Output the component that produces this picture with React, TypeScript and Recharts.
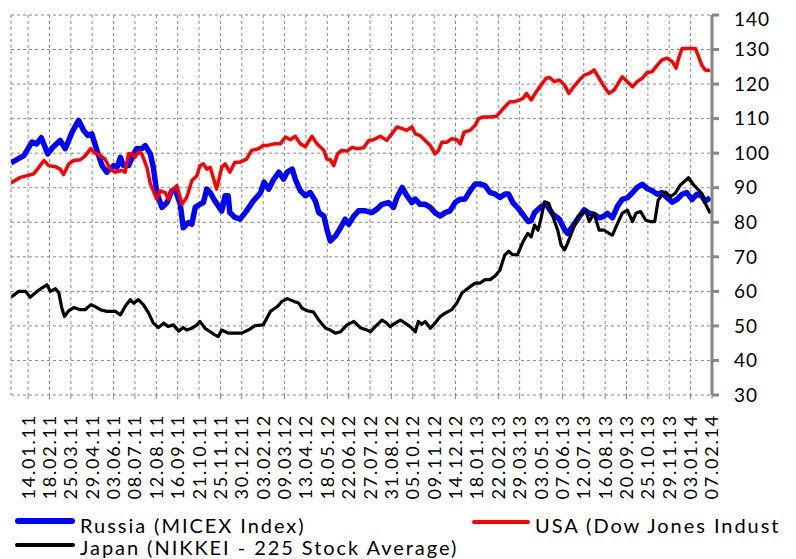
import { LineChart, Line, XAxis, YAxis, CartesianGrid } from 'recharts'

// weekly index: 0 = first week shown, ticks every 5 weeks
const weekLabels = [
  '14.01.11', '18.02.11', '25.03.11', '29.04.11', '03.06.11', '08.07.11', '12.08.11',
  '16.09.11', '21.10.11', '25.11.11', '30.12.11', '03.02.12', '09.03.12', '13.04.12',
  '18.05.12', '22.06.12', '27.07.12', '31.08.12', '05.10.12', '09.11.12', '14.12.12',
  '18.01.13', '22.02.13', '29.03.13', '03.05.13', '07.06.13', '12.07.13', '16.08.13',
  '20.09.13', '25.10.13', '29.11.13', '03.01.14', '07.02.14',
]
const tickWeeks = weekLabels.map((_, i) => 4 + 5 * i)
const yTicks = [30, 40, 50, 60, 70, 80, 90, 100, 110, 120, 130, 140]

// [week, index value]
const russia: [number, number][] = [
  [0, 97.2], [3.0, 99.3], [4.9, 103.2], [6.0, 102.7], [7.1, 104.5], [8.6, 99.8], [9.8, 101.7],
  [11.5, 103.7], [12.7, 101.3], [14.3, 106.1], [15.8, 109.5], [17.0, 106.6], [18.0, 105.1],
  [18.9, 105.6], [20.1, 100.8], [21.3, 96.4], [22.4, 94.5], [24.0, 96.4], [24.8, 95.9],
  [25.6, 98.8], [26.3, 96.4], [27.5, 96.4], [28.7, 99.8], [29.4, 101.3], [30.6, 101.3],
  [31.4, 102.2], [32.6, 99.8], [33.3, 95.9], [34.1, 88.6], [35.3, 84.3], [36.5, 85.7],
  [37.6, 89.1], [38.4, 89.6], [39.6, 85.2], [40.3, 78.4], [41.5, 79.9], [42.3, 79.4],
  [43.1, 84.3], [44.2, 85.2], [45.0, 85.7], [45.8, 89.6], [46.6, 88.6], [47.7, 86.2],
  [49.3, 83.3], [50.1, 87.7], [50.8, 87.7], [51.2, 82.8], [52.4, 81.4], [53.6, 80.9],
  [55.1, 83.3], [56.7, 86.2], [57.8, 87.7], [58.4, 88.6], [59.2, 91.6], [60.3, 89.6],
  [61.5, 92.5], [62.7, 94.5], [63.8, 92.5], [64.6, 94.5], [65.8, 95.4], [66.5, 92.5],
  [67.7, 89.1], [68.9, 87.7], [70.0, 88.6], [71.2, 86.2], [72.0, 82.8], [73.2, 81.8],
  [73.9, 78.0], [74.7, 74.6], [75.9, 76.0], [77.1, 78.4], [78.2, 80.9], [79.0, 79.4],
  [80.2, 81.8], [81.3, 83.3], [82.9, 83.3], [84.4, 82.8], [85.6, 83.8], [86.8, 85.2],
  [88.3, 85.7], [89.5, 84.3], [90.3, 87.2], [91.5, 90.1], [92.6, 87.7], [93.8, 85.7],
  [94.6, 86.7], [95.7, 85.2], [96.9, 85.2], [98.1, 84.3], [99.2, 82.8], [100.4, 81.8],
  [101.6, 82.8], [102.7, 83.3], [103.9, 85.7], [105.1, 86.7], [106.2, 86.7], [107.4, 89.1],
  [108.6, 91.1], [109.7, 91.1], [110.9, 90.6], [112.1, 88.6], [113.2, 88.2], [114.4, 87.2],
  [115.6, 88.2], [116.4, 88.2], [117.4, 85.7], [118.7, 84.0], [119.9, 82.0], [121.0, 80.2],
  [121.7, 80.5], [122.5, 82.8], [124.0, 84.5], [125.2, 85.2], [126.8, 82.3], [128.3, 80.9],
  [129.5, 77.9], [130.2, 76.8], [131.4, 78.8], [133.0, 81.7], [134.1, 83.6], [135.3, 82.6],
  [136.4, 82.3], [137.6, 81.3], [138.8, 81.8], [139.5, 82.6], [140.7, 81.3], [141.9, 84.7],
  [143.0, 86.6], [144.2, 87.1], [145.4, 88.6], [146.5, 90.1], [147.7, 91.0], [148.8, 89.8],
  [150.0, 89.1], [151.2, 88.1], [152.3, 88.6], [153.5, 87.1], [154.7, 85.8], [155.8, 86.6],
  [157.0, 88.1], [158.1, 88.6], [159.3, 86.6], [160.5, 88.1], [161.6, 87.6], [162.4, 86.1],
  [163.6, 87.1],
]

const usa: [number, number][] = [
  [0, 91.4], [2.2, 93.0], [3.8, 93.5], [5.3, 94.0], [6.5, 95.9], [7.7, 97.9], [8.8, 96.4],
  [10.4, 96.1], [11.5, 95.4], [12.3, 93.8], [13.5, 96.9], [14.7, 97.9], [16.2, 98.1],
  [17.4, 99.3], [18.6, 101.3], [19.7, 100.0], [20.9, 99.3], [22.0, 98.3], [23.2, 95.4],
  [24.4, 94.5], [25.9, 95.0], [26.7, 94.5], [27.5, 99.8], [28.2, 99.8], [29.0, 98.8],
  [29.8, 100.3], [30.6, 99.8], [31.8, 95.9], [32.6, 91.1], [33.3, 89.1], [34.1, 86.7],
  [34.9, 89.1], [36.1, 88.6], [36.8, 86.7], [37.6, 89.1], [38.8, 90.6], [40.0, 85.2],
  [41.1, 87.2], [42.3, 92.0], [43.5, 93.5], [44.2, 96.4], [45.0, 96.9], [45.8, 95.4],
  [46.6, 95.9], [47.3, 93.0], [48.1, 89.6], [49.3, 95.9], [50.1, 96.9], [51.2, 94.5],
  [52.4, 97.4], [53.6, 97.4], [55.1, 98.3], [56.3, 100.8], [57.9, 101.3], [59.0, 102.2],
  [59.9, 102.2], [61.5, 102.7], [63.0, 102.7], [64.2, 104.7], [65.4, 103.9], [66.5, 104.9],
  [67.7, 102.7], [68.9, 101.9], [70.4, 104.9], [71.6, 102.7], [73.2, 100.8], [73.9, 98.3],
  [74.7, 98.1], [75.5, 96.4], [76.4, 99.8], [77.4, 100.8], [78.6, 100.6], [79.8, 101.7],
  [80.9, 101.3], [82.5, 101.6], [83.7, 103.7], [84.8, 103.9], [86.4, 104.9], [87.9, 103.7],
  [89.1, 105.6], [90.3, 107.6], [91.5, 107.1], [92.6, 106.6], [93.8, 107.6], [94.6, 105.6],
  [95.7, 105.1], [96.9, 103.7], [98.1, 102.2], [99.2, 99.8], [100.0, 100.8], [100.8, 103.2],
  [102.0, 103.2], [103.1, 104.2], [104.3, 103.9], [105.1, 102.7], [106.0, 106.1],
  [107.4, 106.6], [108.6, 108.1], [109.4, 110.0], [110.5, 110.5], [112.1, 110.5],
  [113.6, 110.7], [114.8, 112.4], [115.6, 113.5], [116.7, 114.9], [117.8, 114.9],
  [119.0, 115.4], [119.8, 115.9], [120.6, 117.3], [121.7, 115.4], [122.9, 117.8],
  [124.0, 119.7], [125.2, 121.7], [126.0, 121.9], [127.1, 120.7], [128.3, 121.2],
  [129.5, 119.7], [130.5, 117.3], [131.4, 118.8], [133.0, 121.2], [134.1, 122.6],
  [135.3, 123.1], [136.4, 124.1], [137.6, 121.7], [138.8, 119.2], [139.9, 117.3],
  [141.1, 118.3], [142.3, 120.7], [143.0, 122.1], [144.2, 120.7], [145.4, 119.2],
  [146.5, 120.7], [147.7, 121.7], [148.8, 123.3], [150.0, 123.6], [151.2, 125.5],
  [152.3, 127.0], [153.5, 127.5], [154.7, 126.5], [155.6, 124.6], [156.2, 127.5],
  [157.0, 130.3], [158.5, 130.3], [160.1, 130.3], [160.9, 127.9], [161.6, 125.5],
  [162.4, 124.1], [163.6, 123.9],
]

const japan: [number, number][] = [
  [0, 58.3], [1.8, 60.0], [3.4, 60.0], [4.5, 58.3], [6.1, 60.0], [7.3, 61.0], [8.4, 61.9],
  [9.2, 60.0], [10.4, 60.8], [11.2, 59.5], [11.9, 55.1], [12.5, 52.7], [13.5, 54.4],
  [14.7, 55.3], [16.2, 54.7], [17.4, 54.7], [18.6, 56.1], [19.7, 55.6], [20.9, 54.7],
  [22.4, 54.2], [24.4, 54.2], [25.6, 53.2], [26.7, 55.6], [27.9, 57.6], [28.7, 56.6],
  [29.8, 57.6], [31.0, 56.1], [32.2, 53.7], [33.3, 50.8], [34.5, 49.5], [35.7, 50.8],
  [36.8, 49.8], [38.0, 50.3], [39.2, 48.5], [40.3, 49.5], [41.1, 48.8], [42.3, 49.3],
  [43.5, 50.3], [44.2, 51.3], [45.4, 49.3], [46.6, 48.3], [47.7, 47.4], [48.5, 46.9],
  [49.3, 48.8], [50.8, 47.9], [52.4, 47.9], [54.0, 47.9], [55.5, 48.8], [57.1, 50.1],
  [59.0, 50.3], [60.7, 54.2], [62.3, 55.6], [63.4, 57.1], [64.6, 57.9], [66.2, 57.1],
  [67.3, 56.6], [68.1, 55.1], [69.3, 54.4], [70.8, 54.0], [72.0, 51.7], [73.6, 49.3],
  [74.7, 48.8], [75.9, 47.9], [77.1, 48.3], [78.6, 50.3], [80.2, 51.3], [81.7, 49.5],
  [83.3, 48.8], [84.1, 48.3], [85.2, 49.8], [86.8, 51.7], [87.9, 50.8], [88.7, 49.8],
  [89.9, 50.8], [91.1, 51.7], [92.2, 50.8], [93.4, 49.8], [94.6, 48.3], [95.3, 51.3],
  [96.1, 50.5], [96.9, 51.3], [98.1, 49.3], [99.2, 50.8], [100.4, 52.7], [101.6, 53.7],
  [103.1, 54.7], [104.3, 56.6], [105.5, 59.5], [107.0, 61.0], [108.6, 62.4], [109.7, 62.4],
  [110.9, 63.4], [112.1, 63.4], [113.2, 64.4], [114.4, 66.2], [115.5, 70.5], [116.4, 71.6],
  [117.4, 70.6], [118.5, 70.6], [119.8, 74.4], [120.9, 76.8], [121.7, 75.8], [122.5, 79.2],
  [123.3, 77.7], [124.0, 81.1], [124.8, 85.9], [125.8, 85.5], [126.8, 81.6], [127.9, 77.7],
  [128.7, 73.4], [129.5, 72.0], [130.2, 73.9], [131.4, 77.7], [132.6, 81.6], [133.7, 82.6],
  [134.5, 83.1], [135.3, 80.2], [136.4, 82.6], [137.6, 77.7], [138.8, 77.7], [139.9, 76.8],
  [140.7, 76.3], [141.9, 79.7], [143.0, 82.6], [144.2, 83.5], [145.4, 80.2], [146.2, 82.6],
  [147.3, 83.1], [148.5, 80.6], [149.6, 80.2], [150.6, 80.2], [151.4, 86.4], [152.3, 87.9],
  [153.1, 88.8], [154.3, 87.4], [155.4, 88.4], [156.6, 90.8], [158.5, 92.9], [159.7, 90.8],
  [160.9, 89.3], [161.6, 88.4], [162.4, 85.5], [163.6, 82.6],
]

const FONT = 'Lato, "Open Sans", sans-serif'

const toRows = (pts: [number, number][]) => pts.map(([w, v]) => ({ w, v }))

function DateTick(props: any) {
  const { x, y, payload } = props
  const idx = tickWeeks.indexOf(payload.value)
  return (
    <text
      transform={`translate(${x},${y + 13}) rotate(-90)`}
      textAnchor="end"
      dy="0.36em"
      fontSize={18}
      letterSpacing={1.8}
      fill="#000"
      fontFamily={FONT}
    >
      {weekLabels[idx]}
    </text>
  )
}

const legendText = {
  position: 'absolute' as const,
  fontFamily: FONT,
  fontSize: 20,
  letterSpacing: 1.95,
  lineHeight: '20px',
  color: '#000',
  whiteSpace: 'nowrap' as const,
}

export default function App() {
  return (
    <div style={{ position: 'relative', width: 780, height: 551 }}>
      <LineChart width={780} height={500} margin={{ top: 7, right: 20, bottom: 0, left: 3 }}>
        <CartesianGrid stroke="#8a8a8a" strokeDasharray="3 3" />
        <XAxis
          dataKey="w"
          type="number"
          domain={[0, 164]}
          ticks={tickWeeks}
          interval={0}
          height={113}
          axisLine={false}
          tickLine={{ stroke: '#8a8a8a' }}
          tickSize={4}
          tick={<DateTick />}
          allowDataOverflow
        />
        <YAxis
          orientation="right"
          domain={[30, 140]}
          ticks={yTicks}
          width={56}
          axisLine={{ stroke: '#868686', strokeWidth: 3 }}
          tickLine={{ stroke: '#868686', strokeWidth: 3 }}
          tickSize={7}
          tickMargin={15}
          tick={{ fill: '#000', fontSize: 19, fontFamily: FONT, letterSpacing: 1 }}
        />
        <Line
          data={toRows(russia)}
          dataKey="v"
          type="linear"
          stroke="#0000ff"
          strokeWidth={5.5}
          strokeLinejoin="round"
          dot={false}
          isAnimationActive={false}
        />
        <Line
          data={toRows(usa)}
          dataKey="v"
          type="linear"
          stroke="#ff0000"
          strokeWidth={3.5}
          strokeLinejoin="round"
          dot={false}
          isAnimationActive={false}
        />
        <Line
          data={toRows(japan)}
          dataKey="v"
          type="linear"
          stroke="#000000"
          strokeWidth={3.2}
          strokeLinejoin="round"
          dot={false}
          isAnimationActive={false}
        />
      </LineChart>

      <div style={{ position: 'absolute', left: 7, top: 510, width: 60, height: 6, background: '#0000ff', borderRadius: 3 }} />
      <div style={{ ...legendText, left: 72, top: 507 }}>Russia (MICEX Index)</div>

      <div style={{ position: 'absolute', left: 464, top: 512, width: 58, height: 4, background: '#ff0000', borderRadius: 2 }} />
      <div style={{ ...legendText, left: 527, top: 507 }}>USA (Dow Jones Indust</div>

      <div style={{ position: 'absolute', left: 7, top: 535, width: 60, height: 4, background: '#000', borderRadius: 2 }} />
      <div style={{ ...legendText, left: 72, top: 529 }}>Japan (NIKKEI - 225 Stock Average)</div>
    </div>
  )
}
